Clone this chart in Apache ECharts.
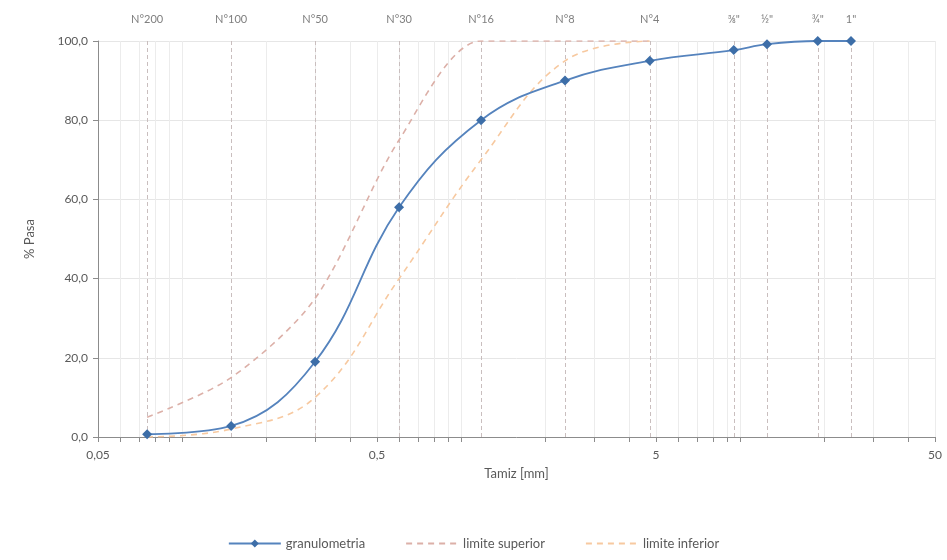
<!DOCTYPE html>
<html><head><meta charset="utf-8">
<script src="https://cdn.jsdelivr.net/npm/echarts@6/dist/echarts.min.js"></script>
<style>html,body{margin:0;padding:0;background:#fff}#c{width:947px;height:560px}</style>
</head><body><div id="c"></div>
<script>
// Sieve sizes (mm) and names
const sieveSizes = [0.075, 0.15, 0.3, 0.6, 1.18, 2.36, 4.75, 9.5, 12.5, 19, 25];
const sieveNames = ['N°200', 'N°100', 'N°50', 'N°30', 'N°16', 'N°8', 'N°4', '⅜"', '½"', '¾"', '1"'];
// % passing
const granulometria = [0.7, 2.8, 19, 58, 80, 90, 95, 97.7, 99.2, 100, 100];
const limiteSuperior = [5, 15, 35, 75, 100, 100, 100];
const limiteInferior = [0, 2, 10, 40, 70, 95, 100];
const xTickLabels = [0.05, 0.5, 5, 50];
const yTicks = [0, 20, 40, 60, 80, 100];

const X0 = 0.05;
const tx = d => Math.log10(d / X0);
const fmt = v => String(+(X0 * Math.pow(10, v)).toPrecision(6)).replace('.', ',');

// minor log positions
const minorVals = [];
for (let dec = 0.01; dec <= 10; dec *= 10) {
  for (let k = 1; k <= 9; k++) {
    const d = +(k * dec).toPrecision(6);
    if (d >= 0.05 - 1e-9 && d <= 50 + 1e-9) minorVals.push(tx(d));
  }
}

const pairs = (ys) => ys.map((y, i) => [tx(sieveSizes[i]), y]);
const font = 'Lato, "Open Sans", sans-serif';

const chart = echarts.init(document.getElementById('c'), null, {renderer: 'canvas'});
chart.setOption({
  animation: false,
  textStyle: {fontFamily: font},
  grid: {left: 98, right: 12, top: 41, bottom: 123, containLabel: false},
  xAxis: [{
    type: 'value', min: 0, max: 3, position: 'bottom',
    name: 'Tamiz [mm]', nameLocation: 'middle', nameGap: 30,
    nameTextStyle: {color: '#595959', fontSize: 13, fontFamily: font},
    axisLine: {show: true, lineStyle: {color: '#8c8c8c', width: 1}},
    axisTick: {show: true, inside: false, length: 5, customValues: minorVals, lineStyle: {color: '#8c8c8c'}},
    axisLabel: {customValues: xTickLabels.map(tx), formatter: v => fmt(v), color: '#595959', fontSize: 12, margin: 12, fontFamily: font},
    splitLine: {show: true, lineStyle: {color: '#ececec', width: 1}},
    minorTick: {show: false}
  }, {
    type: 'value', min: 0, max: 3, position: 'top',
    axisLine: {show: false},
    axisTick: {show: false, customValues: sieveSizes.map(tx)},
    axisLabel: {customValues: sieveSizes.map(tx), margin: 16, color: '#7f7f7f', fontSize: 11, fontFamily: font,
      formatter: v => { let b = 0, bd = 1e9; sieveSizes.forEach((s, i) => { const dd = Math.abs(tx(s) - v); if (dd < bd) { bd = dd; b = i; } }); return sieveNames[b]; }},
    splitLine: {show: true, lineStyle: {color: '#c9bebe', type: [4, 3], width: 1}}
  }],
  yAxis: {
    type: 'value', min: 0, max: 100, interval: 20,
    name: '% Pasa', nameLocation: 'middle', nameGap: 62, nameRotate: 90,
    nameTextStyle: {color: '#595959', fontSize: 13, fontFamily: font},
    axisLine: {show: true, lineStyle: {color: '#8c8c8c'}},
    axisTick: {show: true, length: 5, lineStyle: {color: '#8c8c8c'}},
    axisLabel: {formatter: v => v.toFixed(1).replace('.', ','), color: '#595959', fontSize: 12, margin: 10, fontFamily: font},
    splitLine: {show: true, lineStyle: {color: '#e6e6e6'}}
  },
  legend: {
    bottom: 5, left: 'center', itemGap: 40, itemWidth: 52, itemHeight: 10,
    textStyle: {color: '#595959', fontSize: 13, fontFamily: font},
    data: [
      {name: 'granulometria'},
      {name: 'limite superior', itemStyle: {opacity: 0}},
      {name: 'limite inferior', itemStyle: {opacity: 0}}
    ]
  },
  series: [{
    name: 'limite superior', type: 'line', smooth: 0.3, data: pairs(limiteSuperior),
    symbol: 'none', lineStyle: {color: '#dcb0a8', width: 1.6, type: [6, 5]}, itemStyle: {color: '#dcb0a8'}, z: 2
  }, {
    name: 'limite inferior', type: 'line', smooth: 0.4, data: pairs(limiteInferior),
    symbol: 'none', lineStyle: {color: '#f7c9a0', width: 1.6, type: [6, 5]}, itemStyle: {color: '#f7c9a0'}, z: 2
  }, {
    name: 'granulometria', type: 'line', smooth: 0.4, data: pairs(granulometria),
    symbol: 'diamond', symbolSize: 10, showSymbol: true,
    lineStyle: {color: '#5583bd', width: 1.8}, itemStyle: {color: '#3d6ea8'}, z: 3
  }]
});
</script></body></html>
